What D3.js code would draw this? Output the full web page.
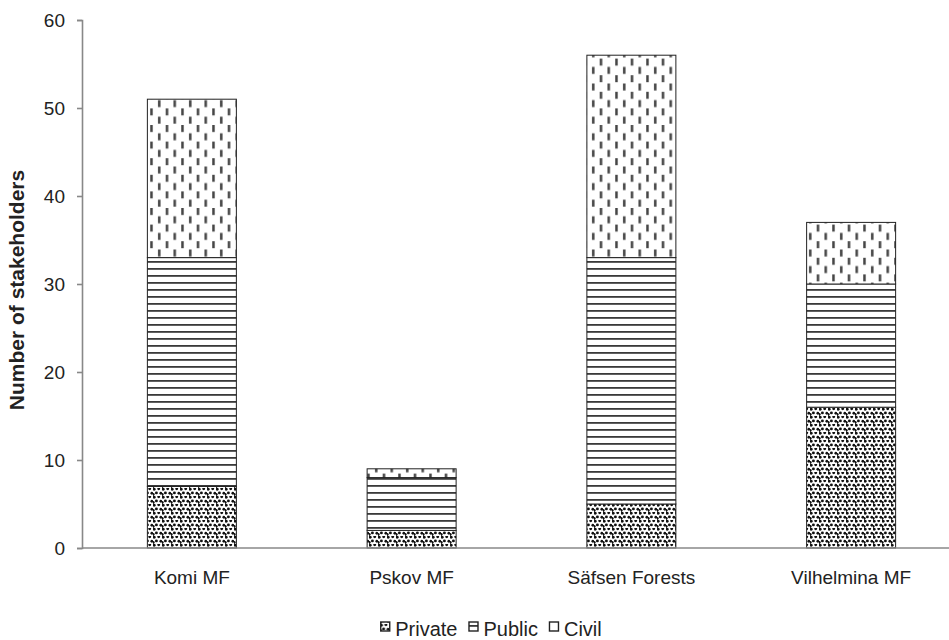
<!DOCTYPE html>
<html><head><meta charset="utf-8">
<script src="https://cdn.jsdelivr.net/npm/d3@7/dist/d3.min.js"></script>
<style>body{margin:0;background:#fff}svg{display:block}</style>
</head><body>
<script>
const categories = ["Komi MF", "Pskov MF", "Säfsen Forests", "Vilhelmina MF"];
const seriesNames = ["Private", "Public", "Civil"];
const privateVals = [7, 2, 5, 16];
const publicVals = [26, 6, 28, 14];
const civilVals = [18, 1, 23, 7];
const yTicks = [0, 10, 20, 30, 40, 50, 60];

const W = 949, H = 640;
const FONT = "Liberation Sans, Arial, sans-serif";
const svg = d3.select("body").append("svg").attr("width", W).attr("height", H);
const defs = svg.append("defs");

// Private: dense dots
const pPriv = defs.append("pattern").attr("id", "pPrivate").attr("patternUnits", "userSpaceOnUse")
  .attr("width", 9).attr("height", 8);
pPriv.append("rect").attr("width", 9).attr("height", 8).attr("fill", "#fff");
[[1.2,1.2],[5.7,0.8],[3.4,4.9],[7.9,5.2],[0.2,6.5]].forEach(([cx,cy]) => {
  pPriv.append("circle").attr("cx", cx).attr("cy", cy).attr("r", 1.45).attr("fill", "#111");
});
// Public: horizontal lines
const pPub = defs.append("pattern").attr("id", "pPublic").attr("patternUnits", "userSpaceOnUse")
  .attr("width", 8).attr("height", 7);
pPub.append("rect").attr("width", 8).attr("height", 7).attr("fill", "#fff");
pPub.append("rect").attr("x", 0).attr("y", 2).attr("width", 8).attr("height", 1.8).attr("fill", "#3a3a3a");
// Civil: staggered vertical dashes
const pCiv = defs.append("pattern").attr("id", "pCivil").attr("patternUnits", "userSpaceOnUse")
  .attr("width", 15.5).attr("height", 16.6);
pCiv.append("rect").attr("width", 15.5).attr("height", 16.6).attr("fill", "#fff");
pCiv.append("rect").attr("x", 3).attr("y", 0.5).attr("width", 2.5).attr("height", 7).attr("fill", "#444");
pCiv.append("rect").attr("x", 10.75).attr("y", 8.8).attr("width", 2.5).attr("height", 7).attr("fill", "#444");

const fills = {Private: "url(#pPrivate)", Public: "url(#pPublic)", Civil: "url(#pCivil)"};

const x = d3.scaleBand().domain(categories).range([82, 961]).paddingInner(0.595).paddingOuter(0.2975);
const y = d3.scaleLinear().domain([0, 60]).range([548, 20]);

const rows = categories.map((c, i) => ({cat: c, Private: privateVals[i], Public: publicVals[i], Civil: civilVals[i]}));
const stack = d3.stack().keys(seriesNames)(rows);

const g = svg.append("g");
stack.forEach(layer => {
  g.selectAll(null).data(layer).enter().append("rect")
    .attr("x", d => x(d.data.cat))
    .attr("y", d => y(d[1]))
    .attr("width", x.bandwidth())
    .attr("height", d => y(d[0]) - y(d[1]))
    .attr("fill", fills[layer.key])
    .attr("stroke", "#222").attr("stroke-width", 1);
});

// Y axis
const yAxis = svg.append("g").attr("transform", "translate(82,0)")
  .call(d3.axisLeft(y).tickValues(yTicks).tickSize(5).tickPadding(12).tickFormat(d3.format("d")));
yAxis.select(".domain").attr("stroke", "#888").attr("stroke-width", 1.6);
yAxis.selectAll(".tick line").attr("stroke", "#888").attr("stroke-width", 1.6);
yAxis.selectAll("text").attr("font-family", FONT).attr("font-size", 19).attr("fill", "#222");

// X axis
const xAxis = svg.append("g").attr("transform", "translate(0,548)")
  .call(d3.axisBottom(x).tickSize(0).tickPadding(23));
xAxis.select(".domain").attr("stroke", "#888").attr("stroke-width", 1.6).attr("d", "M82,0H949");
xAxis.selectAll("text").attr("font-family", FONT).attr("font-size", 19).attr("fill", "#222");

// Y label
svg.append("text").attr("transform", "translate(24,290) rotate(-90)")
  .attr("text-anchor", "middle").attr("font-family", FONT)
  .attr("font-size", 21).attr("font-weight", "bold").attr("fill", "#222")
  .text("Number of stakeholders");

// Legend
const legend = svg.append("g");
let cx = 0;
const iconSize = 9, gapIcon = 6, gapItem = 11;
seriesNames.forEach((s, i) => {
  const lg = legend.append("g").attr("transform", `translate(${cx},0)`);
  lg.append("rect").attr("x", 0.5).attr("y", 622).attr("width", iconSize).attr("height", iconSize)
    .attr("fill", fills[s]).attr("stroke", "#222").attr("stroke-width", 1.4);
  const t = lg.append("text").attr("x", iconSize + gapIcon).attr("y", 636)
    .attr("font-family", FONT).attr("font-size", 20).attr("fill", "#222")
    .text(s);
  cx += iconSize + gapIcon + t.node().getComputedTextLength() + gapItem;
});
const legendW = cx - gapItem;
legend.attr("transform", `translate(${491 - legendW / 2},0)`);
</script>
</body></html>
